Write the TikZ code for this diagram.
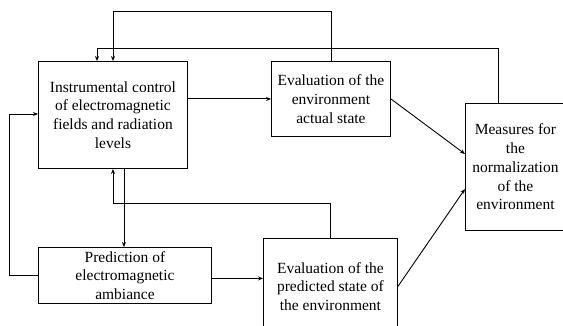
\documentclass[tikz,border=0pt]{standalone}
\usepackage{fontspec}
\setmainfont{Liberation Serif}
\usetikzlibrary{arrows.meta,calc}
\begin{document}
\begin{tikzpicture}[x=1pt,y=-1pt,
  box/.style={draw,line width=0.9pt,rectangle,inner sep=0pt,anchor=north west,align=center,
    font=\fontsize{15.5}{18.8}\selectfont},
  arr/.style={line width=0.9pt,-{Stealth[length=5pt,width=4pt]}}]
\useasboundingbox (0,0) rectangle (563,326);
\node[box,minimum width=149pt,minimum height=107pt] (A) at (38,61) {Instrumental control\\of electromagnetic\\fields and radiation\\levels};
\node[box,minimum width=119pt,minimum height=75pt] (B) at (271,61) {Evaluation of the\\environment\\actual state};
\node[box,minimum width=100pt,minimum height=127pt] (C) at (465,103) {Measures for\\the\\normalization\\of the\\environment};
\node[box,minimum width=173pt,minimum height=56pt] (D) at (38,247) {Prediction of\\electromagnetic\\ambiance};
\node[box,minimum width=134pt,minimum height=96pt] (E) at (263,238) {Evaluation of the\\predicted state of\\the environment};
\coordinate (c2) at ($(C.north west)+(33,0)$);
\draw[arr] (B.north) -- ++(0,-50) -| ($(A.north west)+(75,0)$);
\draw[arr] (c2) -- ++(0,-55) -| ($(A.north west)+(59,0)$);
\draw[arr] (A.east |- B.west) -- (B.west);
\draw[arr] (B.east) -- ($(C.north west)+(0,51)$);
\draw[arr] (E.east) -- ($(C.north west)+(0,86)$);
\draw[arr] ($(D.east)+(0,3)$) -- ($(D.east -| E.west)+(0,3)$);
\draw[arr] ($(A.south west)+(86,0)$) -- ($(D.north west)+(86,0)$);
\draw[arr] (E.north) -- ++(0,-35) -| ($(A.south west)+(75,0)$);
\draw[arr] (D.west) -- ++(-29,0) |- ($(A.north west)+(0,53)$);
\end{tikzpicture}
\end{document}
